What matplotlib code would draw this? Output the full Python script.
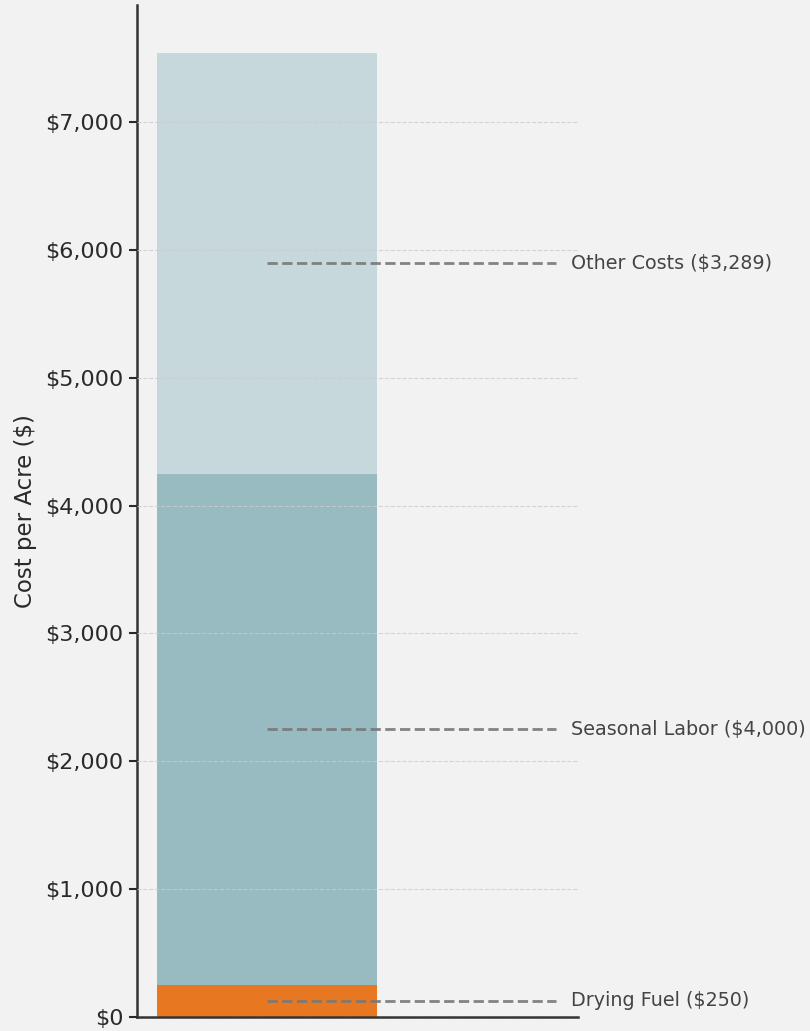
import matplotlib.pyplot as plt
from matplotlib.ticker import FuncFormatter

# cost components, bottom to top
categories = ['Drying Fuel', 'Seasonal Labor', 'Other Costs']
costs = [250, 4000, 3289]
colors = ['#e87722', '#98bac1', '#c6d8dc']

fig = plt.figure(figsize=(8.1, 10.31), dpi=100, facecolor='#f2f2f2')
ax = fig.add_axes([0.169, 0.0136, 0.5445, 0.9816])
ax.set_facecolor('#f2f2f2')

bottom = 0
for name, val, col in zip(categories, costs, colors):
    ax.bar(0, val, width=0.5, bottom=bottom, color=col, linewidth=0, zorder=1)
    mid = bottom + val / 2
    ax.plot([0, 0.655], [mid, mid], color='#777777', linestyle='--', lw=2,
            alpha=0.9, zorder=3)
    ax.text(0.69, mid, f'{name} (${val:,})', va='center', ha='left',
            fontsize=13.8, color='#444444', clip_on=False)
    bottom += val

total = sum(costs)
ax.set_xlim(-0.295, 0.705)
ax.set_ylim(0, total * 1.05)

ax.yaxis.set_major_formatter(FuncFormatter(lambda v, p: f'${v:,.0f}'))
ax.set_yticks(range(0, 8000, 1000))
ax.set_xticks([])
ax.tick_params(axis='y', labelsize=16, colors='#2a2a2a', length=6, width=1.5)
ax.set_ylabel('Cost per Acre ($)', fontsize=16.5, color='#2a2a2a', labelpad=6)

ax.grid(axis='y', linestyle='--', color='#cccccc', lw=0.8, alpha=0.8, zorder=2)
ax.set_axisbelow(False)

for s in ['top', 'right']:
    ax.spines[s].set_visible(False)
for s in ['left', 'bottom']:
    ax.spines[s].set_color('#333333')
    ax.spines[s].set_linewidth(1.8)

fig.savefig('out.png', dpi=100, facecolor=fig.get_facecolor())
